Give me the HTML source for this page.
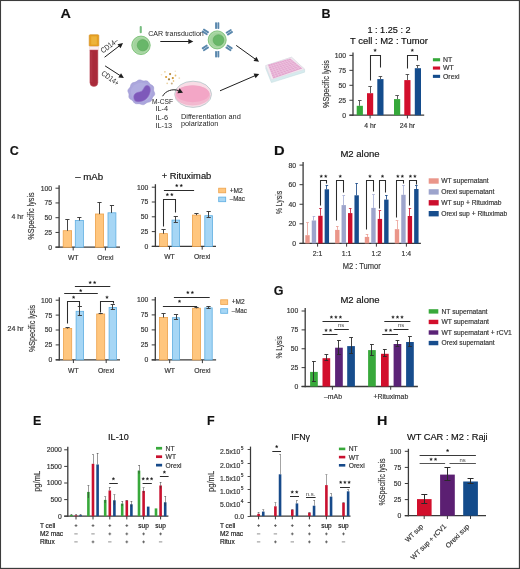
<!DOCTYPE html>
<html><head><meta charset="utf-8"><style>
html,body{margin:0;padding:0;background:#fff;}
svg{display:block;will-change:transform;}
text{font-family:"Liberation Sans",sans-serif;stroke:#3a3a3a;stroke-width:0.18px;}
text.thin{stroke:none;}
</style></head><body>
<svg width="520" height="569" viewBox="0 0 520 569">
<rect x="0" y="0" width="520" height="569" fill="#ffffff"/>
<rect x="0" y="0" width="520" height="1.05" fill="#3c3c3c"/>
<rect x="0" y="0" width="1.05" height="569" fill="#3c3c3c"/>
<rect x="518.85" y="0" width="1.15" height="569" fill="#3c3c3c"/>
<rect x="0" y="567.85" width="520" height="1.15" fill="#3c3c3c"/>
<text x="0" y="0" font-size="12.5" transform="translate(60.6 17.8) scale(1.15 1)" font-weight="bold" fill="#111">A</text>
<rect x="89.2" y="34.7" width="9.6" height="11.6" rx="1" fill="#E6A022" stroke="#D18C1C" stroke-width="0.6"/>
<rect x="91.2" y="36.4" width="5.6" height="8.2" fill="#EFB842" opacity="0.8"/>
<rect x="89.8" y="46.6" width="8.6" height="3.6" fill="#fbeef0" stroke="#e6c2c6" stroke-width="0.4"/>
<path d="M89.9,50.0 H97.9 V82.5 A4,4 0 0 1 89.9,82.5 Z" fill="#A92A3A" stroke="#C25A66" stroke-width="0.5"/>
<rect x="91.2" y="52" width="1.1" height="30" fill="#B7404E" opacity="0.6"/>
<line x1="104.6" y1="57.2" x2="119.43" y2="45.84" stroke="#1e1e1e" stroke-width="1"/>
<polygon points="123,43.1 120.55,48.13 117.51,44.16" fill="#1e1e1e"/>
<line x1="105.1" y1="65.9" x2="120.12" y2="75.56" stroke="#1e1e1e" stroke-width="1"/>
<polygon points="123.9,78 118.34,77.4 121.05,73.19" fill="#1e1e1e"/>
<text x="103" y="53.6" font-size="7.6" fill="#262626" transform="rotate(-37 103 53.6)" textLength="19.8" lengthAdjust="spacingAndGlyphs" class="thin">CD14–</text>
<text x="100.8" y="74.4" font-size="7.6" fill="#262626" transform="rotate(36 100.8 74.4)" textLength="19.8" lengthAdjust="spacingAndGlyphs" class="thin">CD14+</text>
<rect x="139.7" y="26.1" width="2.1" height="7.1" rx="0.9" fill="#77BD80"/>
<circle cx="141" cy="45.3" r="9.2" fill="#A2D39D" stroke="#79BF75" stroke-width="0.9"/>
<circle cx="141" cy="45.3" r="8.0" fill="none" stroke="#B6DEB1" stroke-width="0.6"/>
<circle cx="142.8" cy="45.2" r="5.6" fill="#68B769" stroke="#5CA85D" stroke-width="0.6"/>
<text x="148.2" y="36.2" font-size="7.4" fill="#262626" textLength="55.6" lengthAdjust="spacingAndGlyphs" class="thin">CAR transduction</text>
<line x1="160.3" y1="41.5" x2="188.8" y2="41.5" stroke="#1e1e1e" stroke-width="1"/>
<polygon points="193.3,41.6 188.3,44.1 188.3,39.1" fill="#1e1e1e"/>
<g transform="rotate(0 217.2 39.9)"><rect x="215.1" y="22.3" width="1.9" height="6.6" rx="0.7" fill="#5A88AD"/><rect x="217.4" y="22.3" width="1.9" height="6.6" rx="0.7" fill="#5A88AD"/></g>
<g transform="rotate(58 217.2 39.9)"><rect x="215.1" y="22.3" width="1.9" height="6.6" rx="0.7" fill="#5A88AD"/><rect x="217.4" y="22.3" width="1.9" height="6.6" rx="0.7" fill="#5A88AD"/></g>
<g transform="rotate(124 217.2 39.9)"><rect x="215.1" y="22.3" width="1.9" height="6.6" rx="0.7" fill="#5A88AD"/><rect x="217.4" y="22.3" width="1.9" height="6.6" rx="0.7" fill="#5A88AD"/></g>
<g transform="rotate(180 217.2 39.9)"><rect x="215.1" y="22.3" width="1.9" height="6.6" rx="0.7" fill="#5A88AD"/><rect x="217.4" y="22.3" width="1.9" height="6.6" rx="0.7" fill="#5A88AD"/></g>
<g transform="rotate(236 217.2 39.9)"><rect x="215.1" y="22.3" width="1.9" height="6.6" rx="0.7" fill="#5A88AD"/><rect x="217.4" y="22.3" width="1.9" height="6.6" rx="0.7" fill="#5A88AD"/></g>
<g transform="rotate(304 217.2 39.9)"><rect x="215.1" y="22.3" width="1.9" height="6.6" rx="0.7" fill="#5A88AD"/><rect x="217.4" y="22.3" width="1.9" height="6.6" rx="0.7" fill="#5A88AD"/></g>
<circle cx="217.2" cy="39.9" r="9" fill="#A2D39D" stroke="#79BF75" stroke-width="0.9"/>
<circle cx="217.2" cy="39.9" r="7.8" fill="none" stroke="#B6DEB1" stroke-width="0.6"/>
<circle cx="218.5" cy="40.1" r="5.4" fill="#68B769" stroke="#5CA85D" stroke-width="0.6"/>
<line x1="236.2" y1="45.4" x2="255.35" y2="59.17" stroke="#1e1e1e" stroke-width="1"/>
<polygon points="259,61.8 253.48,60.91 256.4,56.85" fill="#1e1e1e"/>
<polygon points="154.3,92.3 154.65,93.38 154.61,94.47 154.11,95.47 153.35,96.35 152.64,97.18 152.17,98.09 151.88,99.14 151.51,100.21 150.86,101.12 149.87,101.73 148.7,102.06 147.57,102.33 146.59,102.77 145.69,103.42 144.73,104.12 143.65,104.58 142.47,104.62 141.3,104.3 140.2,103.89 139.13,103.65 138,103.66 136.79,103.73 135.6,103.58 134.57,103.05 133.79,102.2 133.16,101.26 132.48,100.45 131.6,99.82 130.58,99.23 129.65,98.51 129.08,97.56 128.92,96.46 128.99,95.34 129,94.3 128.75,93.31 128.3,92.3 127.95,91.22 127.99,90.13 128.49,89.13 129.25,88.25 129.96,87.42 130.43,86.51 130.72,85.46 131.09,84.39 131.74,83.48 132.73,82.87 133.9,82.54 135.03,82.27 136.01,81.83 136.91,81.18 137.87,80.48 138.95,80.02 140.13,79.98 141.3,80.3 142.4,80.71 143.47,80.95 144.6,80.94 145.81,80.87 147,81.02 148.03,81.55 148.81,82.4 149.44,83.34 150.12,84.15 151,84.78 152.02,85.37 152.95,86.09 153.52,87.04 153.68,88.14 153.61,89.26 153.6,90.3 153.85,91.29" fill="#ABA6DC" stroke="#9D98D2" stroke-width="0.7"/>
<ellipse cx="141.3" cy="92.3" rx="10.5" ry="9.6" fill="#B1ADE0"/>
<path d="M133.8,97.3 C133.6,94 136.5,92.4 139.5,92 C142.3,91.6 143.4,89.2 144.4,87.2 C145.6,85 148.6,84.8 149.9,87.4 C151.1,90.4 149.6,95.4 146.6,98.4 C143.6,101.4 138,102.4 135.5,101.1 C134.5,100.5 133.9,99.1 133.8,97.3 Z" fill="#7E59BA" stroke="#8F6CC4" stroke-width="0.6"/>
<circle cx="164.9" cy="71.8" r="0.9" fill="#EDD49C"/>
<circle cx="170.1" cy="74.1" r="1.1" fill="#B88A3C"/>
<circle cx="166.1" cy="77.0" r="1.1" fill="#DDA038"/>
<circle cx="169.0" cy="79.3" r="1.1" fill="#A67E36"/>
<circle cx="172.8" cy="78.1" r="1.1" fill="#C99433"/>
<circle cx="179.3" cy="78.1" r="0.9" fill="#EFDDB4"/>
<circle cx="167.2" cy="83.3" r="0.9" fill="#EBD3A4"/>
<circle cx="171.8" cy="83.5" r="1.0" fill="#C8AE86"/>
<circle cx="175.3" cy="71.2" r="0.8" fill="#F2E4C6"/>
<circle cx="161.5" cy="74.7" r="0.8" fill="#F2E2C0"/>
<circle cx="175.5" cy="75.5" r="0.9" fill="#E6BC6A"/>
<circle cx="173.5" cy="81.0" r="0.8" fill="#E2B25A"/>
<ellipse cx="193.1" cy="94.3" rx="18.4" ry="13.1" fill="#F8DCE6" stroke="#BACACD" stroke-width="0.9"/>
<ellipse cx="192.7" cy="95.4" rx="17.3" ry="9.8" fill="#F3B9D0" stroke="#EDB0C8" stroke-width="0.4"/>
<ellipse cx="192.7" cy="93.8" rx="16.6" ry="8.4" fill="#F3A6C6"/>
<path d="M162.6,96.2 C165.5,90.8 172.5,88.4 178.6,90.6" fill="none" stroke="#1e1e1e" stroke-width="1.0"/>
<polygon points="183.0,92.8 177.4,93.2 179.6,88.3" fill="#1e1e1e"/>
<text x="151.9" y="103.7" font-size="7.3" fill="#262626" textLength="21.2" lengthAdjust="spacingAndGlyphs" class="thin">M-CSF</text>
<text x="155.4" y="111.3" font-size="7.3" fill="#262626" class="thin">IL-4</text>
<text x="155.4" y="119.9" font-size="7.3" fill="#262626" class="thin">IL-6</text>
<text x="155.4" y="127.7" font-size="7.3" fill="#262626" class="thin">IL-13</text>
<text x="180.9" y="118.6" font-size="7.3" fill="#262626" textLength="59.9" lengthAdjust="spacingAndGlyphs" class="thin">Differentiation and</text>
<text x="180.9" y="126.4" font-size="7.3" fill="#262626" textLength="37.4" lengthAdjust="spacingAndGlyphs" class="thin">polarization</text>
<line x1="220" y1="90.8" x2="255.07" y2="75.68" stroke="#1e1e1e" stroke-width="1"/>
<polygon points="259.2,73.9 255.6,78.18 253.62,73.58" fill="#1e1e1e"/>
<polygon points="265.8,65.6 291.5,57.2 304.6,69.2 304.6,72.2 271.4,82.6 265.8,68.6" fill="#D6EBEE" stroke="#C3DADF" stroke-width="0.5"/>
<polygon points="265.8,65.6 291.5,57.2 304.6,69.2 271.4,79.6" fill="#F3EAF1" stroke="#E2D4DE" stroke-width="0.4"/>
<polygon points="268.0,64.8 290.2,58.6 302.4,68.4 273.2,78.6" fill="#E3A6CF"/>
<line x1="270.22" y1="64.18" x2="276.12" y2="77.58" stroke="#F2D3E6" stroke-width="0.45"/>
<line x1="272.44" y1="63.56" x2="279.04" y2="76.56" stroke="#F2D3E6" stroke-width="0.45"/>
<line x1="274.66" y1="62.94" x2="281.96" y2="75.54" stroke="#F2D3E6" stroke-width="0.45"/>
<line x1="276.88" y1="62.32" x2="284.88" y2="74.52" stroke="#F2D3E6" stroke-width="0.45"/>
<line x1="279.1" y1="61.7" x2="287.8" y2="73.5" stroke="#F2D3E6" stroke-width="0.45"/>
<line x1="281.32" y1="61.08" x2="290.72" y2="72.48" stroke="#F2D3E6" stroke-width="0.45"/>
<line x1="283.54" y1="60.46" x2="293.64" y2="71.46" stroke="#F2D3E6" stroke-width="0.45"/>
<line x1="285.76" y1="59.84" x2="296.56" y2="70.44" stroke="#F2D3E6" stroke-width="0.45"/>
<line x1="287.98" y1="59.22" x2="299.48" y2="69.42" stroke="#F2D3E6" stroke-width="0.45"/>
<line x1="268.74" y1="66.77" x2="291.94" y2="60" stroke="#F2D3E6" stroke-width="0.45"/>
<line x1="269.49" y1="68.74" x2="293.69" y2="61.4" stroke="#F2D3E6" stroke-width="0.45"/>
<line x1="270.23" y1="70.71" x2="295.43" y2="62.8" stroke="#F2D3E6" stroke-width="0.45"/>
<line x1="270.97" y1="72.69" x2="297.17" y2="64.2" stroke="#F2D3E6" stroke-width="0.45"/>
<line x1="271.71" y1="74.66" x2="298.91" y2="65.6" stroke="#F2D3E6" stroke-width="0.45"/>
<line x1="272.46" y1="76.63" x2="300.66" y2="67" stroke="#F2D3E6" stroke-width="0.45"/>
<text x="321.4" y="17.8" font-size="12.5" font-weight="bold" fill="#111">B</text>
<text x="389" y="32.8" font-size="9.2" text-anchor="middle" textLength="43.2" lengthAdjust="spacingAndGlyphs">1 : 1.25 : 2</text>
<text x="389" y="44.1" font-size="9.2" text-anchor="middle" textLength="78" lengthAdjust="spacingAndGlyphs">T cell : M2 : Tumor</text>
<line x1="353" y1="52.4" x2="353" y2="115.85" stroke="#3a3a3a" stroke-width="1.3"/>
<line x1="349.4" y1="115.2" x2="353" y2="115.2" stroke="#3a3a3a" stroke-width="1"/>
<text x="346" y="117.65" font-size="6.8" text-anchor="end" fill="#333333">0</text>
<line x1="349.4" y1="100.25" x2="353" y2="100.25" stroke="#3a3a3a" stroke-width="1"/>
<text x="346" y="102.7" font-size="6.8" text-anchor="end" fill="#333333">25</text>
<line x1="349.4" y1="85.3" x2="353" y2="85.3" stroke="#3a3a3a" stroke-width="1"/>
<text x="346" y="87.75" font-size="6.8" text-anchor="end" fill="#333333">50</text>
<line x1="349.4" y1="70.35" x2="353" y2="70.35" stroke="#3a3a3a" stroke-width="1"/>
<text x="346" y="72.8" font-size="6.8" text-anchor="end" fill="#333333">75</text>
<line x1="349.4" y1="55.4" x2="353" y2="55.4" stroke="#3a3a3a" stroke-width="1"/>
<text x="346" y="57.85" font-size="6.8" text-anchor="end" fill="#333333">100</text>
<line x1="349.4" y1="115.2" x2="424.2" y2="115.2" stroke="#3a3a3a" stroke-width="1.3"/>
<line x1="370.1" y1="115.2" x2="370.1" y2="118.45" stroke="#3a3a3a" stroke-width="1"/>
<line x1="407.4" y1="115.2" x2="407.4" y2="118.45" stroke="#3a3a3a" stroke-width="1"/>
<text x="370.1" y="127.7" font-size="6.8" text-anchor="middle" fill="#333333">4 hr</text>
<text x="407.4" y="127.7" font-size="6.8" text-anchor="middle" fill="#333333">24 hr</text>
<text x="329" y="84" font-size="9" text-anchor="middle" fill="#333333" transform="rotate(-90 329 84)" textLength="48" lengthAdjust="spacingAndGlyphs">%Specific lysis</text>
<rect x="356.7" y="105.8" width="6.2" height="9.4" fill="#35A83A"/>
<line x1="359.5" y1="100.5" x2="359.5" y2="105.8" stroke="#4a4a4a" stroke-width="0.9"/>
<line x1="358" y1="100.5" x2="361.6" y2="100.5" stroke="#4a4a4a" stroke-width="0.9"/>
<rect x="367" y="93.2" width="6.2" height="22" fill="#D20F2C"/>
<line x1="370.5" y1="86.7" x2="370.5" y2="93.2" stroke="#4a4a4a" stroke-width="0.9"/>
<line x1="368.3" y1="86.5" x2="371.9" y2="86.5" stroke="#4a4a4a" stroke-width="0.9"/>
<rect x="377.3" y="79.1" width="6.2" height="36.1" fill="#144C8C"/>
<line x1="380.5" y1="76.4" x2="380.5" y2="79.1" stroke="#4a4a4a" stroke-width="0.9"/>
<line x1="378.6" y1="76.5" x2="382.2" y2="76.5" stroke="#4a4a4a" stroke-width="0.9"/>
<rect x="394" y="99.1" width="6.2" height="16.1" fill="#35A83A"/>
<line x1="397.5" y1="95.7" x2="397.5" y2="99.1" stroke="#4a4a4a" stroke-width="0.9"/>
<line x1="395.3" y1="95.5" x2="398.9" y2="95.5" stroke="#4a4a4a" stroke-width="0.9"/>
<rect x="404.3" y="80.1" width="6.2" height="35.1" fill="#D20F2C"/>
<line x1="407.5" y1="74.2" x2="407.5" y2="80.1" stroke="#4a4a4a" stroke-width="0.9"/>
<line x1="405.6" y1="74.5" x2="409.2" y2="74.5" stroke="#4a4a4a" stroke-width="0.9"/>
<rect x="414.8" y="68.2" width="6.2" height="47" fill="#144C8C"/>
<line x1="417.5" y1="65.3" x2="417.5" y2="68.2" stroke="#4a4a4a" stroke-width="0.9"/>
<line x1="416.1" y1="65.5" x2="419.7" y2="65.5" stroke="#4a4a4a" stroke-width="0.9"/>
<polyline points="370.5,80.5 370.5,55.5 380.5,55.5 380.5,67.5" fill="none" stroke="#2c2c2c" stroke-width="1.05"/>
<path d="M375.1,48.8L375.51,49.78L376.57,49.87L375.77,50.57L376.01,51.6L375.1,51.05L374.19,51.6L374.43,50.57L373.63,49.87L374.69,49.78Z" fill="#1e1e1e" stroke="#1e1e1e" stroke-width="0.25"/>
<polyline points="407.5,68.5 407.5,55.5 417.5,55.5 417.5,60.5" fill="none" stroke="#2c2c2c" stroke-width="1.05"/>
<path d="M412.3,48.8L412.71,49.78L413.77,49.87L412.97,50.57L413.21,51.6L412.3,51.05L411.39,51.6L411.63,50.57L410.83,49.87L411.89,49.78Z" fill="#1e1e1e" stroke="#1e1e1e" stroke-width="0.25"/>
<rect x="432.9" y="58.2" width="7.2" height="3.1" fill="#35A83A"/>
<text x="443" y="62" font-size="6.9" fill="#333333">NT</text>
<rect x="432.9" y="66.5" width="7.2" height="3.1" fill="#D20F2C"/>
<text x="443" y="70.3" font-size="6.9" fill="#333333">WT</text>
<rect x="432.9" y="74.8" width="7.2" height="3.1" fill="#144C8C"/>
<text x="443" y="78.6" font-size="6.9" fill="#333333">Orexi</text>
<text x="9.8" y="154.7" font-size="12.5" font-weight="bold" fill="#111">C</text>
<text x="89.2" y="179.5" font-size="9.3" text-anchor="middle" textLength="28" lengthAdjust="spacingAndGlyphs">– mAb</text>
<text x="186.5" y="178.9" font-size="9.3" text-anchor="middle" textLength="49.6" lengthAdjust="spacingAndGlyphs">+ Rituximab</text>
<text x="11.6" y="218.7" font-size="6.8" fill="#333333" textLength="11.9" lengthAdjust="spacingAndGlyphs">4 hr</text>
<text x="7.5" y="331" font-size="6.4" fill="#333333" textLength="16" lengthAdjust="spacingAndGlyphs">24 hr</text>
<line x1="59.1" y1="185.2" x2="59.1" y2="247.85" stroke="#3a3a3a" stroke-width="1.3"/>
<line x1="55.5" y1="247.2" x2="59.1" y2="247.2" stroke="#3a3a3a" stroke-width="1"/>
<text x="52.1" y="249.65" font-size="6.8" text-anchor="end" fill="#333333">0</text>
<line x1="55.5" y1="232.45" x2="59.1" y2="232.45" stroke="#3a3a3a" stroke-width="1"/>
<text x="52.1" y="234.9" font-size="6.8" text-anchor="end" fill="#333333">25</text>
<line x1="55.5" y1="217.7" x2="59.1" y2="217.7" stroke="#3a3a3a" stroke-width="1"/>
<text x="52.1" y="220.15" font-size="6.8" text-anchor="end" fill="#333333">50</text>
<line x1="55.5" y1="202.95" x2="59.1" y2="202.95" stroke="#3a3a3a" stroke-width="1"/>
<text x="52.1" y="205.4" font-size="6.8" text-anchor="end" fill="#333333">75</text>
<line x1="55.5" y1="188.2" x2="59.1" y2="188.2" stroke="#3a3a3a" stroke-width="1"/>
<text x="52.1" y="190.65" font-size="6.8" text-anchor="end" fill="#333333">100</text>
<line x1="55.5" y1="247.2" x2="120" y2="247.2" stroke="#3a3a3a" stroke-width="1.3"/>
<line x1="73.2" y1="247.2" x2="73.2" y2="250.45" stroke="#3a3a3a" stroke-width="1"/>
<line x1="105.4" y1="247.2" x2="105.4" y2="250.45" stroke="#3a3a3a" stroke-width="1"/>
<rect x="63.2" y="230.7" width="8.4" height="16.5" fill="#FFC67E" stroke="#EDA24C" stroke-width="0.8"/>
<line x1="67.5" y1="219.4" x2="67.5" y2="230.8" stroke="#3a3a3a" stroke-width="0.95"/>
<line x1="65.3" y1="219.5" x2="69.5" y2="219.5" stroke="#3a3a3a" stroke-width="0.95"/>
<rect x="75.3" y="220.4" width="8.1" height="26.8" fill="#A6D6F5" stroke="#5FAEE2" stroke-width="0.8"/>
<line x1="79.5" y1="217.3" x2="79.5" y2="220.5" stroke="#3a3a3a" stroke-width="0.95"/>
<line x1="77.25" y1="217.5" x2="81.45" y2="217.5" stroke="#3a3a3a" stroke-width="0.95"/>
<rect x="95.4" y="214" width="8.2" height="33.2" fill="#FFC67E" stroke="#EDA24C" stroke-width="0.8"/>
<line x1="99.5" y1="202.2" x2="99.5" y2="214.1" stroke="#3a3a3a" stroke-width="0.95"/>
<line x1="97.4" y1="202.5" x2="101.6" y2="202.5" stroke="#3a3a3a" stroke-width="0.95"/>
<rect x="108" y="212.8" width="7.9" height="34.4" fill="#A6D6F5" stroke="#5FAEE2" stroke-width="0.8"/>
<line x1="111.5" y1="205.3" x2="111.5" y2="212.9" stroke="#3a3a3a" stroke-width="0.95"/>
<line x1="109.85" y1="205.5" x2="114.05" y2="205.5" stroke="#3a3a3a" stroke-width="0.95"/>
<text x="73.2" y="259.8" font-size="6.8" text-anchor="middle" fill="#333333">WT</text>
<text x="105.4" y="259.8" font-size="6.8" text-anchor="middle" fill="#333333">Orexi</text>
<text x="34.3" y="216.05" font-size="8.8" text-anchor="middle" fill="#333333" transform="rotate(-90 34.3 216.05)" textLength="47.3" lengthAdjust="spacingAndGlyphs">%Specific lysis</text>
<line x1="155.4" y1="184.2" x2="155.4" y2="247.05" stroke="#3a3a3a" stroke-width="1.3"/>
<line x1="151.8" y1="246.4" x2="155.4" y2="246.4" stroke="#3a3a3a" stroke-width="1"/>
<text x="148.4" y="248.85" font-size="6.8" text-anchor="end" fill="#333333">0</text>
<line x1="151.8" y1="231.6" x2="155.4" y2="231.6" stroke="#3a3a3a" stroke-width="1"/>
<text x="148.4" y="234.05" font-size="6.8" text-anchor="end" fill="#333333">25</text>
<line x1="151.8" y1="216.8" x2="155.4" y2="216.8" stroke="#3a3a3a" stroke-width="1"/>
<text x="148.4" y="219.25" font-size="6.8" text-anchor="end" fill="#333333">50</text>
<line x1="151.8" y1="202" x2="155.4" y2="202" stroke="#3a3a3a" stroke-width="1"/>
<text x="148.4" y="204.45" font-size="6.8" text-anchor="end" fill="#333333">75</text>
<line x1="151.8" y1="187.2" x2="155.4" y2="187.2" stroke="#3a3a3a" stroke-width="1"/>
<text x="148.4" y="189.65" font-size="6.8" text-anchor="end" fill="#333333">100</text>
<line x1="151.8" y1="246.4" x2="216" y2="246.4" stroke="#3a3a3a" stroke-width="1.3"/>
<line x1="169.5" y1="246.4" x2="169.5" y2="249.65" stroke="#3a3a3a" stroke-width="1"/>
<line x1="202.2" y1="246.4" x2="202.2" y2="249.65" stroke="#3a3a3a" stroke-width="1"/>
<rect x="159.6" y="233.6" width="7.9" height="12.8" fill="#FFC67E" stroke="#EDA24C" stroke-width="0.8"/>
<line x1="163.5" y1="229.5" x2="163.5" y2="233.7" stroke="#3a3a3a" stroke-width="0.95"/>
<line x1="161.45" y1="229.5" x2="165.65" y2="229.5" stroke="#3a3a3a" stroke-width="0.95"/>
<rect x="172" y="220.1" width="7.6" height="26.3" fill="#A6D6F5" stroke="#5FAEE2" stroke-width="0.8"/>
<line x1="175.5" y1="216.3" x2="175.5" y2="222" stroke="#3a3a3a" stroke-width="0.95"/>
<line x1="173.7" y1="216.5" x2="177.9" y2="216.5" stroke="#3a3a3a" stroke-width="0.95"/>
<line x1="173.7" y1="222.5" x2="177.9" y2="222.5" stroke="#3a3a3a" stroke-width="0.95"/>
<rect x="192.4" y="215.1" width="8.1" height="31.3" fill="#FFC67E" stroke="#EDA24C" stroke-width="0.8"/>
<line x1="196.5" y1="213.6" x2="196.5" y2="215.2" stroke="#3a3a3a" stroke-width="0.95"/>
<line x1="194.35" y1="213.5" x2="198.55" y2="213.5" stroke="#3a3a3a" stroke-width="0.95"/>
<rect x="204.8" y="215.7" width="7.7" height="30.7" fill="#A6D6F5" stroke="#5FAEE2" stroke-width="0.8"/>
<line x1="208.5" y1="211.6" x2="208.5" y2="217.4" stroke="#3a3a3a" stroke-width="0.95"/>
<line x1="206.55" y1="211.5" x2="210.75" y2="211.5" stroke="#3a3a3a" stroke-width="0.95"/>
<line x1="206.55" y1="217.5" x2="210.75" y2="217.5" stroke="#3a3a3a" stroke-width="0.95"/>
<text x="169.5" y="259.2" font-size="6.8" text-anchor="middle" fill="#333333">WT</text>
<text x="202.2" y="259.2" font-size="6.8" text-anchor="middle" fill="#333333">Orexi</text>
<polyline points="163.5,226.5 163.5,199.5 175.5,199.5 175.5,212.5" fill="none" stroke="#2c2c2c" stroke-width="1.05"/>
<path d="M167.35,193.1L167.76,194.08L168.82,194.17L168.02,194.87L168.26,195.9L167.35,195.35L166.44,195.9L166.68,194.87L165.88,194.17L166.94,194.08ZM171.85,193.1L172.26,194.08L173.32,194.17L172.52,194.87L172.76,195.9L171.85,195.35L170.94,195.9L171.18,194.87L170.38,194.17L171.44,194.08Z" fill="#1e1e1e" stroke="#1e1e1e" stroke-width="0.25"/>
<line x1="163.9" y1="190.5" x2="194.1" y2="190.5" stroke="#2c2c2c" stroke-width="1.05"/>
<path d="M176.75,184.05L177.16,185.03L178.22,185.12L177.42,185.82L177.66,186.85L176.75,186.3L175.84,186.85L176.08,185.82L175.28,185.12L176.34,185.03ZM181.25,184.05L181.66,185.03L182.72,185.12L181.92,185.82L182.16,186.85L181.25,186.3L180.34,186.85L180.58,185.82L179.78,185.12L180.84,185.03Z" fill="#1e1e1e" stroke="#1e1e1e" stroke-width="0.25"/>
<rect x="218.7" y="188.2" width="7" height="4.6" fill="#FFC67E" stroke="#EDA24C" stroke-width="0.8"/>
<text x="229.7" y="192.8" font-size="7" fill="#333333" textLength="13" lengthAdjust="spacingAndGlyphs">+M2</text>
<rect x="218.7" y="197.1" width="7" height="4.6" fill="#A6D6F5" stroke="#5FAEE2" stroke-width="0.8"/>
<text x="229.7" y="201.2" font-size="7" fill="#333333" textLength="15.2" lengthAdjust="spacingAndGlyphs">–Mac</text>
<line x1="59.3" y1="297.2" x2="59.3" y2="360.45" stroke="#3a3a3a" stroke-width="1.3"/>
<line x1="55.7" y1="359.8" x2="59.3" y2="359.8" stroke="#3a3a3a" stroke-width="1"/>
<text x="52.3" y="362.25" font-size="6.8" text-anchor="end" fill="#333333">0</text>
<line x1="55.7" y1="344.9" x2="59.3" y2="344.9" stroke="#3a3a3a" stroke-width="1"/>
<text x="52.3" y="347.35" font-size="6.8" text-anchor="end" fill="#333333">25</text>
<line x1="55.7" y1="330" x2="59.3" y2="330" stroke="#3a3a3a" stroke-width="1"/>
<text x="52.3" y="332.45" font-size="6.8" text-anchor="end" fill="#333333">50</text>
<line x1="55.7" y1="315.1" x2="59.3" y2="315.1" stroke="#3a3a3a" stroke-width="1"/>
<text x="52.3" y="317.55" font-size="6.8" text-anchor="end" fill="#333333">75</text>
<line x1="55.7" y1="300.2" x2="59.3" y2="300.2" stroke="#3a3a3a" stroke-width="1"/>
<text x="52.3" y="302.65" font-size="6.8" text-anchor="end" fill="#333333">100</text>
<line x1="55.7" y1="359.8" x2="120" y2="359.8" stroke="#3a3a3a" stroke-width="1.3"/>
<line x1="73.4" y1="359.8" x2="73.4" y2="363.05" stroke="#3a3a3a" stroke-width="1"/>
<line x1="106.2" y1="359.8" x2="106.2" y2="363.05" stroke="#3a3a3a" stroke-width="1"/>
<rect x="63.5" y="328.5" width="8.2" height="31.3" fill="#FFC67E" stroke="#EDA24C" stroke-width="0.8"/>
<line x1="67.5" y1="327.6" x2="67.5" y2="328.6" stroke="#3a3a3a" stroke-width="0.95"/>
<line x1="65.5" y1="327.5" x2="69.7" y2="327.5" stroke="#3a3a3a" stroke-width="0.95"/>
<rect x="76.1" y="311.3" width="7.5" height="48.5" fill="#A6D6F5" stroke="#5FAEE2" stroke-width="0.8"/>
<line x1="79.5" y1="306.3" x2="79.5" y2="315.4" stroke="#3a3a3a" stroke-width="0.95"/>
<line x1="77.75" y1="306.5" x2="81.95" y2="306.5" stroke="#3a3a3a" stroke-width="0.95"/>
<line x1="77.75" y1="315.5" x2="81.95" y2="315.5" stroke="#3a3a3a" stroke-width="0.95"/>
<rect x="96.7" y="314" width="8" height="45.8" fill="#FFC67E" stroke="#EDA24C" stroke-width="0.8"/>
<line x1="100.5" y1="313.1" x2="100.5" y2="314.1" stroke="#3a3a3a" stroke-width="0.95"/>
<line x1="98.6" y1="313.5" x2="102.8" y2="313.5" stroke="#3a3a3a" stroke-width="0.95"/>
<rect x="109.1" y="307.4" width="7.4" height="52.4" fill="#A6D6F5" stroke="#5FAEE2" stroke-width="0.8"/>
<line x1="112.5" y1="304.3" x2="112.5" y2="309.8" stroke="#3a3a3a" stroke-width="0.95"/>
<line x1="110.7" y1="304.5" x2="114.9" y2="304.5" stroke="#3a3a3a" stroke-width="0.95"/>
<line x1="110.7" y1="309.5" x2="114.9" y2="309.5" stroke="#3a3a3a" stroke-width="0.95"/>
<text x="73.4" y="372.6" font-size="6.8" text-anchor="middle" fill="#333333">WT</text>
<text x="106.2" y="372.6" font-size="6.8" text-anchor="middle" fill="#333333">Orexi</text>
<text x="34.9" y="328.5" font-size="8.8" text-anchor="middle" fill="#333333" transform="rotate(-90 34.9 328.5)" textLength="47.1" lengthAdjust="spacingAndGlyphs">%Specific lysis</text>
<polyline points="67.5,323.5 67.5,301.5 79.5,301.5 79.5,306.5" fill="none" stroke="#2c2c2c" stroke-width="1.05"/>
<path d="M73.6,295.7L74.01,296.68L75.07,296.77L74.27,297.47L74.51,298.5L73.6,297.95L72.69,298.5L72.93,297.47L72.13,296.77L73.19,296.68Z" fill="#1e1e1e" stroke="#1e1e1e" stroke-width="0.25"/>
<polyline points="100.5,312.5 100.5,301.5 113.5,301.5 113.5,303.5" fill="none" stroke="#2c2c2c" stroke-width="1.05"/>
<path d="M107,295.7L107.41,296.68L108.47,296.77L107.67,297.47L107.91,298.5L107,297.95L106.09,298.5L106.33,297.47L105.53,296.77L106.59,296.68Z" fill="#1e1e1e" stroke="#1e1e1e" stroke-width="0.25"/>
<line x1="64.2" y1="293.5" x2="97.8" y2="293.5" stroke="#2c2c2c" stroke-width="1.05"/>
<path d="M80.7,289.1L81.11,290.08L82.17,290.17L81.37,290.87L81.61,291.9L80.7,291.35L79.79,291.9L80.03,290.87L79.23,290.17L80.29,290.08Z" fill="#1e1e1e" stroke="#1e1e1e" stroke-width="0.25"/>
<line x1="74.9" y1="286.5" x2="110.3" y2="286.5" stroke="#2c2c2c" stroke-width="1.05"/>
<path d="M90.15,280.9L90.56,281.88L91.62,281.97L90.82,282.67L91.06,283.7L90.15,283.15L89.24,283.7L89.48,282.67L88.68,281.97L89.74,281.88ZM94.65,280.9L95.06,281.88L96.12,281.97L95.32,282.67L95.56,283.7L94.65,283.15L93.74,283.7L93.98,282.67L93.18,281.97L94.24,281.88Z" fill="#1e1e1e" stroke="#1e1e1e" stroke-width="0.25"/>
<line x1="155.3" y1="296.9" x2="155.3" y2="360.55" stroke="#3a3a3a" stroke-width="1.3"/>
<line x1="151.7" y1="359.9" x2="155.3" y2="359.9" stroke="#3a3a3a" stroke-width="1"/>
<text x="148.3" y="362.35" font-size="6.8" text-anchor="end" fill="#333333">0</text>
<line x1="151.7" y1="344.9" x2="155.3" y2="344.9" stroke="#3a3a3a" stroke-width="1"/>
<text x="148.3" y="347.35" font-size="6.8" text-anchor="end" fill="#333333">25</text>
<line x1="151.7" y1="329.9" x2="155.3" y2="329.9" stroke="#3a3a3a" stroke-width="1"/>
<text x="148.3" y="332.35" font-size="6.8" text-anchor="end" fill="#333333">50</text>
<line x1="151.7" y1="314.9" x2="155.3" y2="314.9" stroke="#3a3a3a" stroke-width="1"/>
<text x="148.3" y="317.35" font-size="6.8" text-anchor="end" fill="#333333">75</text>
<line x1="151.7" y1="299.9" x2="155.3" y2="299.9" stroke="#3a3a3a" stroke-width="1"/>
<text x="148.3" y="302.35" font-size="6.8" text-anchor="end" fill="#333333">100</text>
<line x1="151.7" y1="359.9" x2="216.1" y2="359.9" stroke="#3a3a3a" stroke-width="1.3"/>
<line x1="169.7" y1="359.9" x2="169.7" y2="363.15" stroke="#3a3a3a" stroke-width="1"/>
<line x1="202.4" y1="359.9" x2="202.4" y2="363.15" stroke="#3a3a3a" stroke-width="1"/>
<rect x="159.5" y="317.4" width="8.1" height="42.5" fill="#FFC67E" stroke="#EDA24C" stroke-width="0.8"/>
<line x1="163.5" y1="313.4" x2="163.5" y2="317.5" stroke="#3a3a3a" stroke-width="0.95"/>
<line x1="161.45" y1="313.5" x2="165.65" y2="313.5" stroke="#3a3a3a" stroke-width="0.95"/>
<rect x="172.4" y="317.7" width="7.2" height="42.2" fill="#A6D6F5" stroke="#5FAEE2" stroke-width="0.8"/>
<line x1="176.5" y1="314.5" x2="176.5" y2="319.4" stroke="#3a3a3a" stroke-width="0.95"/>
<line x1="173.9" y1="314.5" x2="178.1" y2="314.5" stroke="#3a3a3a" stroke-width="0.95"/>
<line x1="173.9" y1="319.5" x2="178.1" y2="319.5" stroke="#3a3a3a" stroke-width="0.95"/>
<rect x="192.6" y="308.2" width="7.9" height="51.7" fill="#FFC67E" stroke="#EDA24C" stroke-width="0.8"/>
<line x1="196.5" y1="307.3" x2="196.5" y2="308.3" stroke="#3a3a3a" stroke-width="0.95"/>
<line x1="194.45" y1="307.5" x2="198.65" y2="307.5" stroke="#3a3a3a" stroke-width="0.95"/>
<rect x="204.8" y="307.9" width="7.4" height="52" fill="#A6D6F5" stroke="#5FAEE2" stroke-width="0.8"/>
<line x1="208.5" y1="306.4" x2="208.5" y2="308.4" stroke="#3a3a3a" stroke-width="0.95"/>
<line x1="206.4" y1="306.5" x2="210.6" y2="306.5" stroke="#3a3a3a" stroke-width="0.95"/>
<line x1="206.4" y1="308.5" x2="210.6" y2="308.5" stroke="#3a3a3a" stroke-width="0.95"/>
<text x="169.7" y="372.6" font-size="6.8" text-anchor="middle" fill="#333333">WT</text>
<text x="202.4" y="372.6" font-size="6.8" text-anchor="middle" fill="#333333">Orexi</text>
<line x1="162.9" y1="306.5" x2="197.1" y2="306.5" stroke="#2c2c2c" stroke-width="1.05"/>
<path d="M179.5,299.8L179.91,300.78L180.97,300.87L180.17,301.57L180.41,302.6L179.5,302.05L178.59,302.6L178.83,301.57L178.03,300.87L179.09,300.78Z" fill="#1e1e1e" stroke="#1e1e1e" stroke-width="0.25"/>
<line x1="173.9" y1="297.5" x2="209.7" y2="297.5" stroke="#2c2c2c" stroke-width="1.05"/>
<path d="M187.85,290.9L188.26,291.88L189.32,291.97L188.52,292.67L188.76,293.7L187.85,293.15L186.94,293.7L187.18,292.67L186.38,291.97L187.44,291.88ZM192.35,290.9L192.76,291.88L193.82,291.97L193.02,292.67L193.26,293.7L192.35,293.15L191.44,293.7L191.68,292.67L190.88,291.97L191.94,291.88Z" fill="#1e1e1e" stroke="#1e1e1e" stroke-width="0.25"/>
<rect x="220.7" y="299.8" width="7" height="4.6" fill="#FFC67E" stroke="#EDA24C" stroke-width="0.8"/>
<text x="231.7" y="304.4" font-size="7" fill="#333333" textLength="13" lengthAdjust="spacingAndGlyphs">+M2</text>
<rect x="220.7" y="308.7" width="7" height="4.6" fill="#A6D6F5" stroke="#5FAEE2" stroke-width="0.8"/>
<text x="231.7" y="312.8" font-size="7" fill="#333333" textLength="15.2" lengthAdjust="spacingAndGlyphs">–Mac</text>
<text x="0" y="0" font-size="12.5" transform="translate(273.9 154.7) scale(1.18 1)" font-weight="bold" fill="#111">D</text>
<text x="360" y="156.6" font-size="9.1" text-anchor="middle" textLength="39.2" lengthAdjust="spacingAndGlyphs">M2 alone</text>
<line x1="303.1" y1="162.1" x2="303.1" y2="244.05" stroke="#3a3a3a" stroke-width="1.3"/>
<line x1="299.5" y1="243.4" x2="303.1" y2="243.4" stroke="#3a3a3a" stroke-width="1"/>
<text x="296.1" y="245.85" font-size="6.8" text-anchor="end" fill="#333333">0</text>
<line x1="299.5" y1="223.82" x2="303.1" y2="223.82" stroke="#3a3a3a" stroke-width="1"/>
<text x="296.1" y="226.27" font-size="6.8" text-anchor="end" fill="#333333">20</text>
<line x1="299.5" y1="204.25" x2="303.1" y2="204.25" stroke="#3a3a3a" stroke-width="1"/>
<text x="296.1" y="206.7" font-size="6.8" text-anchor="end" fill="#333333">40</text>
<line x1="299.5" y1="184.68" x2="303.1" y2="184.68" stroke="#3a3a3a" stroke-width="1"/>
<text x="296.1" y="187.12" font-size="6.8" text-anchor="end" fill="#333333">60</text>
<line x1="299.5" y1="165.1" x2="303.1" y2="165.1" stroke="#3a3a3a" stroke-width="1"/>
<text x="296.1" y="167.55" font-size="6.8" text-anchor="end" fill="#333333">80</text>
<line x1="299.5" y1="243.4" x2="420.9" y2="243.4" stroke="#3a3a3a" stroke-width="1.3"/>
<line x1="317.6" y1="243.4" x2="317.6" y2="246.65" stroke="#3a3a3a" stroke-width="1"/>
<line x1="346.6" y1="243.4" x2="346.6" y2="246.65" stroke="#3a3a3a" stroke-width="1"/>
<line x1="376.4" y1="243.4" x2="376.4" y2="246.65" stroke="#3a3a3a" stroke-width="1"/>
<line x1="406.4" y1="243.4" x2="406.4" y2="246.65" stroke="#3a3a3a" stroke-width="1"/>
<text x="317.6" y="255.7" font-size="6.9" text-anchor="middle" fill="#333333">2:1</text>
<text x="346.6" y="255.7" font-size="6.9" text-anchor="middle" fill="#333333">1:1</text>
<text x="376.4" y="255.7" font-size="6.9" text-anchor="middle" fill="#333333">1:2</text>
<text x="406.4" y="255.7" font-size="6.9" text-anchor="middle" fill="#333333">1:4</text>
<text x="361.7" y="268.8" font-size="8.6" text-anchor="middle" fill="#333333" textLength="38" lengthAdjust="spacingAndGlyphs">M2 : Tumor</text>
<text x="282" y="202.5" font-size="9.8" text-anchor="middle" fill="#333333" transform="rotate(-90 282 202.5)" textLength="23.1" lengthAdjust="spacingAndGlyphs">% Lysis</text>
<rect x="305.3" y="235.2" width="4.4" height="8.2" fill="#EA968A"/>
<line x1="307.5" y1="222.9" x2="307.5" y2="235.2" stroke="#EBA399" stroke-width="0.85"/>
<line x1="306.2" y1="222.5" x2="308.8" y2="222.5" stroke="#EBA399" stroke-width="0.85"/>
<rect x="311.75" y="220.5" width="4.4" height="22.9" fill="#9DA4CC"/>
<line x1="313.5" y1="216.2" x2="313.5" y2="220.5" stroke="#A7AED3" stroke-width="0.85"/>
<line x1="312.65" y1="216.5" x2="315.25" y2="216.5" stroke="#A7AED3" stroke-width="0.85"/>
<rect x="318.2" y="215.8" width="4.4" height="27.6" fill="#CC0E2D"/>
<line x1="320.5" y1="208.3" x2="320.5" y2="215.8" stroke="#C8203A" stroke-width="0.85"/>
<line x1="319.1" y1="208.5" x2="321.7" y2="208.5" stroke="#C8203A" stroke-width="0.85"/>
<rect x="324.65" y="189.3" width="4.4" height="54.1" fill="#174D8D"/>
<line x1="326.5" y1="185.2" x2="326.5" y2="189.3" stroke="#1D4C88" stroke-width="0.85"/>
<line x1="325.55" y1="185.5" x2="328.15" y2="185.5" stroke="#1D4C88" stroke-width="0.85"/>
<rect x="335.1" y="229.9" width="4.4" height="13.5" fill="#EA968A"/>
<line x1="337.5" y1="226" x2="337.5" y2="229.9" stroke="#EBA399" stroke-width="0.85"/>
<line x1="336" y1="226.5" x2="338.6" y2="226.5" stroke="#EBA399" stroke-width="0.85"/>
<rect x="341.55" y="205.1" width="4.4" height="38.3" fill="#9DA4CC"/>
<line x1="343.5" y1="195.6" x2="343.5" y2="205.1" stroke="#A7AED3" stroke-width="0.85"/>
<line x1="342.45" y1="195.5" x2="345.05" y2="195.5" stroke="#A7AED3" stroke-width="0.85"/>
<rect x="348" y="213.1" width="4.4" height="30.3" fill="#CC0E2D"/>
<line x1="350.5" y1="208.5" x2="350.5" y2="213.1" stroke="#C8203A" stroke-width="0.85"/>
<line x1="348.9" y1="208.5" x2="351.5" y2="208.5" stroke="#C8203A" stroke-width="0.85"/>
<rect x="354.45" y="195.3" width="4.4" height="48.1" fill="#174D8D"/>
<line x1="356.5" y1="183.2" x2="356.5" y2="195.3" stroke="#1D4C88" stroke-width="0.85"/>
<line x1="355.35" y1="183.5" x2="357.95" y2="183.5" stroke="#1D4C88" stroke-width="0.85"/>
<rect x="364.8" y="236.9" width="4.4" height="6.5" fill="#EA968A"/>
<line x1="367.5" y1="234" x2="367.5" y2="236.9" stroke="#EBA399" stroke-width="0.85"/>
<line x1="365.7" y1="234.5" x2="368.3" y2="234.5" stroke="#EBA399" stroke-width="0.85"/>
<rect x="371.25" y="207.9" width="4.4" height="35.5" fill="#9DA4CC"/>
<line x1="373.5" y1="194.8" x2="373.5" y2="207.9" stroke="#A7AED3" stroke-width="0.85"/>
<line x1="372.15" y1="194.5" x2="374.75" y2="194.5" stroke="#A7AED3" stroke-width="0.85"/>
<rect x="377.7" y="218.9" width="4.4" height="24.5" fill="#CC0E2D"/>
<line x1="379.5" y1="210.6" x2="379.5" y2="218.9" stroke="#C8203A" stroke-width="0.85"/>
<line x1="378.6" y1="210.5" x2="381.2" y2="210.5" stroke="#C8203A" stroke-width="0.85"/>
<rect x="384.15" y="199.6" width="4.4" height="43.8" fill="#174D8D"/>
<line x1="386.5" y1="195.2" x2="386.5" y2="199.6" stroke="#1D4C88" stroke-width="0.85"/>
<line x1="385.05" y1="195.5" x2="387.65" y2="195.5" stroke="#1D4C88" stroke-width="0.85"/>
<rect x="394.8" y="229.2" width="4.4" height="14.2" fill="#EA968A"/>
<line x1="397.5" y1="220.9" x2="397.5" y2="229.2" stroke="#EBA399" stroke-width="0.85"/>
<line x1="395.7" y1="220.5" x2="398.3" y2="220.5" stroke="#EBA399" stroke-width="0.85"/>
<rect x="401.25" y="194.8" width="4.4" height="48.6" fill="#9DA4CC"/>
<line x1="403.5" y1="185.1" x2="403.5" y2="194.8" stroke="#A7AED3" stroke-width="0.85"/>
<line x1="402.15" y1="185.5" x2="404.75" y2="185.5" stroke="#A7AED3" stroke-width="0.85"/>
<rect x="407.7" y="216" width="4.4" height="27.4" fill="#CC0E2D"/>
<line x1="409.5" y1="208.3" x2="409.5" y2="216" stroke="#C8203A" stroke-width="0.85"/>
<line x1="408.6" y1="208.5" x2="411.2" y2="208.5" stroke="#C8203A" stroke-width="0.85"/>
<rect x="414.15" y="189" width="4.4" height="54.4" fill="#174D8D"/>
<line x1="416.5" y1="185.5" x2="416.5" y2="189" stroke="#1D4C88" stroke-width="0.85"/>
<line x1="415.05" y1="185.5" x2="417.65" y2="185.5" stroke="#1D4C88" stroke-width="0.85"/>
<polyline points="320.5,205.5 320.5,180.5 326.5,180.5 326.5,183.5" fill="none" stroke="#2c2c2c" stroke-width="1.05"/>
<path d="M321.25,174.7L321.66,175.68L322.72,175.77L321.92,176.47L322.16,177.5L321.25,176.95L320.34,177.5L320.58,176.47L319.78,175.77L320.84,175.68ZM325.75,174.7L326.16,175.68L327.22,175.77L326.42,176.47L326.66,177.5L325.75,176.95L324.84,177.5L325.08,176.47L324.28,175.77L325.34,175.68Z" fill="#1e1e1e" stroke="#1e1e1e" stroke-width="0.25"/>
<polyline points="336.5,220.5 336.5,180.5 343.5,180.5 343.5,192.5" fill="none" stroke="#2c2c2c" stroke-width="1.05"/>
<path d="M340.25,174.7L340.66,175.68L341.72,175.77L340.92,176.47L341.16,177.5L340.25,176.95L339.34,177.5L339.58,176.47L338.78,175.77L339.84,175.68Z" fill="#1e1e1e" stroke="#1e1e1e" stroke-width="0.25"/>
<polyline points="366.5,229.5 366.5,180.5 373.5,180.5 373.5,191.5" fill="none" stroke="#2c2c2c" stroke-width="1.05"/>
<path d="M369.95,174.7L370.36,175.68L371.42,175.77L370.62,176.47L370.86,177.5L369.95,176.95L369.04,177.5L369.28,176.47L368.48,175.77L369.54,175.68Z" fill="#1e1e1e" stroke="#1e1e1e" stroke-width="0.25"/>
<polyline points="379.5,208.5 379.5,180.5 385.5,180.5 385.5,192.5" fill="none" stroke="#2c2c2c" stroke-width="1.05"/>
<path d="M382.5,174.7L382.91,175.68L383.97,175.77L383.17,176.47L383.41,177.5L382.5,176.95L381.59,177.5L381.83,176.47L381.03,175.77L382.09,175.68Z" fill="#1e1e1e" stroke="#1e1e1e" stroke-width="0.25"/>
<polyline points="396.5,217.5 396.5,180.5 403.5,180.5 403.5,183.5" fill="none" stroke="#2c2c2c" stroke-width="1.05"/>
<path d="M397.85,174.7L398.26,175.68L399.32,175.77L398.52,176.47L398.76,177.5L397.85,176.95L396.94,177.5L397.18,176.47L396.38,175.77L397.44,175.68ZM402.35,174.7L402.76,175.68L403.82,175.77L403.02,176.47L403.26,177.5L402.35,176.95L401.44,177.5L401.68,176.47L400.88,175.77L401.94,175.68Z" fill="#1e1e1e" stroke="#1e1e1e" stroke-width="0.25"/>
<polyline points="409.5,205.5 409.5,180.5 416.5,180.5 416.5,184.5" fill="none" stroke="#2c2c2c" stroke-width="1.05"/>
<path d="M410.4,174.7L410.81,175.68L411.87,175.77L411.07,176.47L411.31,177.5L410.4,176.95L409.49,177.5L409.73,176.47L408.93,175.77L409.99,175.68ZM414.9,174.7L415.31,175.68L416.37,175.77L415.57,176.47L415.81,177.5L414.9,176.95L413.99,177.5L414.23,176.47L413.43,175.77L414.49,175.68Z" fill="#1e1e1e" stroke="#1e1e1e" stroke-width="0.25"/>
<rect x="428.7" y="178.3" width="10" height="5.4" fill="#EA968A"/>
<text x="441.2" y="183.3" font-size="6.7" fill="#333333">WT supernatant</text>
<rect x="428.7" y="189.2" width="10" height="5.4" fill="#9DA4CC"/>
<text x="441.2" y="194.2" font-size="6.7" fill="#333333">Orexi supernatant</text>
<rect x="428.7" y="200.1" width="10" height="5.4" fill="#CC0E2D"/>
<text x="441.2" y="205.1" font-size="6.7" fill="#333333">WT sup + Rituximab</text>
<rect x="428.7" y="211" width="10" height="5.4" fill="#174D8D"/>
<text x="441.2" y="216" font-size="6.7" fill="#333333">Orexi sup + Rituximab</text>
<text x="273.8" y="295.3" font-size="12.5" font-weight="bold" fill="#111">G</text>
<text x="360" y="302.7" font-size="9.1" text-anchor="middle" textLength="39.2" lengthAdjust="spacingAndGlyphs">M2 alone</text>
<line x1="305.2" y1="308" x2="305.2" y2="387.15" stroke="#3a3a3a" stroke-width="1.3"/>
<line x1="301.6" y1="386.5" x2="305.2" y2="386.5" stroke="#3a3a3a" stroke-width="1"/>
<text x="298.2" y="388.95" font-size="6.8" text-anchor="end" fill="#333333">0</text>
<line x1="301.6" y1="367.62" x2="305.2" y2="367.62" stroke="#3a3a3a" stroke-width="1"/>
<text x="298.2" y="370.07" font-size="6.8" text-anchor="end" fill="#333333">25</text>
<line x1="301.6" y1="348.75" x2="305.2" y2="348.75" stroke="#3a3a3a" stroke-width="1"/>
<text x="298.2" y="351.2" font-size="6.8" text-anchor="end" fill="#333333">50</text>
<line x1="301.6" y1="329.88" x2="305.2" y2="329.88" stroke="#3a3a3a" stroke-width="1"/>
<text x="298.2" y="332.32" font-size="6.8" text-anchor="end" fill="#333333">75</text>
<line x1="301.6" y1="311" x2="305.2" y2="311" stroke="#3a3a3a" stroke-width="1"/>
<text x="298.2" y="313.45" font-size="6.8" text-anchor="end" fill="#333333">100</text>
<line x1="301.6" y1="386.5" x2="417.9" y2="386.5" stroke="#3a3a3a" stroke-width="1.3"/>
<line x1="332.4" y1="386.5" x2="332.4" y2="389.75" stroke="#3a3a3a" stroke-width="1"/>
<line x1="390.7" y1="386.5" x2="390.7" y2="389.75" stroke="#3a3a3a" stroke-width="1"/>
<text x="333" y="398.6" font-size="6.9" text-anchor="middle" fill="#333333">–mAb</text>
<text x="390.9" y="398.6" font-size="6.9" text-anchor="middle" fill="#333333" textLength="34.8" lengthAdjust="spacingAndGlyphs">+Rituximab</text>
<text x="282" y="347.2" font-size="9.8" text-anchor="middle" fill="#333333" transform="rotate(-90 282 347.2)" textLength="22.7" lengthAdjust="spacingAndGlyphs">% Lysis</text>
<rect x="310.1" y="371.9" width="7.7" height="14.6" fill="#38A93B"/>
<line x1="313.5" y1="361.4" x2="313.5" y2="381.6" stroke="#2a2a2a" stroke-width="0.9"/>
<line x1="312.05" y1="361.5" x2="315.85" y2="361.5" stroke="#2a2a2a" stroke-width="0.9"/>
<line x1="312.05" y1="381.5" x2="315.85" y2="381.5" stroke="#2a2a2a" stroke-width="0.9"/>
<rect x="322.5" y="358.2" width="7.7" height="28.3" fill="#D20F2C"/>
<line x1="326.5" y1="354.6" x2="326.5" y2="360.6" stroke="#2a2a2a" stroke-width="0.9"/>
<line x1="324.45" y1="354.5" x2="328.25" y2="354.5" stroke="#2a2a2a" stroke-width="0.9"/>
<line x1="324.45" y1="360.5" x2="328.25" y2="360.5" stroke="#2a2a2a" stroke-width="0.9"/>
<rect x="335.1" y="347.7" width="7.7" height="38.8" fill="#5B2377"/>
<line x1="338.5" y1="340.4" x2="338.5" y2="354.1" stroke="#2a2a2a" stroke-width="0.9"/>
<line x1="337.05" y1="340.5" x2="340.85" y2="340.5" stroke="#2a2a2a" stroke-width="0.9"/>
<line x1="337.05" y1="354.5" x2="340.85" y2="354.5" stroke="#2a2a2a" stroke-width="0.9"/>
<rect x="347.2" y="346.1" width="7.7" height="40.4" fill="#174D8D"/>
<line x1="351.5" y1="337.5" x2="351.5" y2="353.3" stroke="#2a2a2a" stroke-width="0.9"/>
<line x1="349.15" y1="337.5" x2="352.95" y2="337.5" stroke="#2a2a2a" stroke-width="0.9"/>
<line x1="349.15" y1="353.5" x2="352.95" y2="353.5" stroke="#2a2a2a" stroke-width="0.9"/>
<rect x="368.1" y="350.1" width="7.7" height="36.4" fill="#38A93B"/>
<line x1="371.5" y1="344.5" x2="371.5" y2="355" stroke="#2a2a2a" stroke-width="0.9"/>
<line x1="370.05" y1="344.5" x2="373.85" y2="344.5" stroke="#2a2a2a" stroke-width="0.9"/>
<line x1="370.05" y1="355.5" x2="373.85" y2="355.5" stroke="#2a2a2a" stroke-width="0.9"/>
<rect x="381" y="353.8" width="7.7" height="32.7" fill="#D20F2C"/>
<line x1="384.5" y1="349.3" x2="384.5" y2="356.6" stroke="#2a2a2a" stroke-width="0.9"/>
<line x1="382.95" y1="349.5" x2="386.75" y2="349.5" stroke="#2a2a2a" stroke-width="0.9"/>
<line x1="382.95" y1="356.5" x2="386.75" y2="356.5" stroke="#2a2a2a" stroke-width="0.9"/>
<rect x="393.6" y="344" width="7.7" height="42.5" fill="#5B2377"/>
<line x1="397.5" y1="340.4" x2="397.5" y2="346.1" stroke="#2a2a2a" stroke-width="0.9"/>
<line x1="395.55" y1="340.5" x2="399.35" y2="340.5" stroke="#2a2a2a" stroke-width="0.9"/>
<line x1="395.55" y1="346.5" x2="399.35" y2="346.5" stroke="#2a2a2a" stroke-width="0.9"/>
<rect x="406.1" y="342" width="7.7" height="44.5" fill="#174D8D"/>
<line x1="409.5" y1="336.9" x2="409.5" y2="346.1" stroke="#2a2a2a" stroke-width="0.9"/>
<line x1="408.05" y1="336.5" x2="411.85" y2="336.5" stroke="#2a2a2a" stroke-width="0.9"/>
<line x1="408.05" y1="346.5" x2="411.85" y2="346.5" stroke="#2a2a2a" stroke-width="0.9"/>
<line x1="322.5" y1="321.5" x2="348.8" y2="321.5" stroke="#2c2c2c" stroke-width="1.05"/>
<path d="M331.4,315.6L331.81,316.58L332.87,316.67L332.07,317.37L332.31,318.4L331.4,317.85L330.49,318.4L330.73,317.37L329.93,316.67L330.99,316.58ZM335.9,315.6L336.31,316.58L337.37,316.67L336.57,317.37L336.81,318.4L335.9,317.85L334.99,318.4L335.23,317.37L334.43,316.67L335.49,316.58ZM340.4,315.6L340.81,316.58L341.87,316.67L341.07,317.37L341.31,318.4L340.4,317.85L339.49,318.4L339.73,317.37L338.93,316.67L339.99,316.58Z" fill="#1e1e1e" stroke="#1e1e1e" stroke-width="0.25"/>
<line x1="334.3" y1="329.5" x2="348.8" y2="329.5" stroke="#2c2c2c" stroke-width="1.05"/>
<text x="341.1" y="326.7" font-size="5.9" text-anchor="middle" fill="#444" class="thin">ns</text>
<line x1="322.5" y1="334.5" x2="337.5" y2="334.5" stroke="#2c2c2c" stroke-width="1.05"/>
<path d="M326.05,328.8L326.46,329.78L327.52,329.87L326.72,330.57L326.96,331.6L326.05,331.05L325.14,331.6L325.38,330.57L324.58,329.87L325.64,329.78ZM330.55,328.8L330.96,329.78L332.02,329.87L331.22,330.57L331.46,331.6L330.55,331.05L329.64,331.6L329.88,330.57L329.08,329.87L330.14,329.78Z" fill="#1e1e1e" stroke="#1e1e1e" stroke-width="0.25"/>
<line x1="384.3" y1="321.5" x2="410.4" y2="321.5" stroke="#2c2c2c" stroke-width="1.05"/>
<path d="M393,315.6L393.41,316.58L394.47,316.67L393.67,317.37L393.91,318.4L393,317.85L392.09,318.4L392.33,317.37L391.53,316.67L392.59,316.58ZM397.5,315.6L397.91,316.58L398.97,316.67L398.17,317.37L398.41,318.4L397.5,317.85L396.59,318.4L396.83,317.37L396.03,316.67L397.09,316.58ZM402,315.6L402.41,316.58L403.47,316.67L402.67,317.37L402.91,318.4L402,317.85L401.09,318.4L401.33,317.37L400.53,316.67L401.59,316.58Z" fill="#1e1e1e" stroke="#1e1e1e" stroke-width="0.25"/>
<line x1="393.5" y1="329.5" x2="408.5" y2="329.5" stroke="#2c2c2c" stroke-width="1.05"/>
<text x="401.2" y="326.7" font-size="5.9" text-anchor="middle" fill="#444" class="thin">ns</text>
<line x1="382.2" y1="334.5" x2="398" y2="334.5" stroke="#2c2c2c" stroke-width="1.05"/>
<path d="M386.05,328.8L386.46,329.78L387.52,329.87L386.72,330.57L386.96,331.6L386.05,331.05L385.14,331.6L385.38,330.57L384.58,329.87L385.64,329.78ZM390.55,328.8L390.96,329.78L392.02,329.87L391.22,330.57L391.46,331.6L390.55,331.05L389.64,331.6L389.88,330.57L389.08,329.87L390.14,329.78Z" fill="#1e1e1e" stroke="#1e1e1e" stroke-width="0.25"/>
<rect x="428.7" y="309.2" width="9.6" height="4.4" fill="#38A93B"/>
<text x="441.5" y="313.7" font-size="6.7" fill="#333333">NT supernatant</text>
<rect x="428.7" y="319.75" width="9.6" height="4.4" fill="#D20F2C"/>
<text x="441.5" y="324.25" font-size="6.7" fill="#333333">WT supernatant</text>
<rect x="428.7" y="330.3" width="9.6" height="4.4" fill="#5B2377"/>
<text x="441.5" y="334.8" font-size="6.7" fill="#333333">WT supernatant + rCV1</text>
<rect x="428.7" y="340.85" width="9.6" height="4.4" fill="#174D8D"/>
<text x="441.5" y="345.35" font-size="6.7" fill="#333333">Orexi supernatant</text>
<text x="33.1" y="425.1" font-size="12.5" font-weight="bold" fill="#111">E</text>
<text x="118.45" y="439.7" font-size="9.5" text-anchor="middle" textLength="20.7" lengthAdjust="spacingAndGlyphs">IL-10</text>
<line x1="67.8" y1="446.8" x2="67.8" y2="516.85" stroke="#3a3a3a" stroke-width="1.3"/>
<line x1="64.2" y1="516.2" x2="67.8" y2="516.2" stroke="#3a3a3a" stroke-width="1"/>
<text x="61.8" y="518.65" font-size="6.8" text-anchor="end" fill="#333333">0</text>
<line x1="64.2" y1="499.6" x2="67.8" y2="499.6" stroke="#3a3a3a" stroke-width="1"/>
<text x="61.8" y="502.05" font-size="6.8" text-anchor="end" fill="#333333">500</text>
<line x1="64.2" y1="483" x2="67.8" y2="483" stroke="#3a3a3a" stroke-width="1"/>
<text x="61.8" y="485.45" font-size="6.8" text-anchor="end" fill="#333333">1000</text>
<line x1="64.2" y1="466.4" x2="67.8" y2="466.4" stroke="#3a3a3a" stroke-width="1"/>
<text x="61.8" y="468.85" font-size="6.8" text-anchor="end" fill="#333333">1500</text>
<line x1="64.2" y1="449.8" x2="67.8" y2="449.8" stroke="#3a3a3a" stroke-width="1"/>
<text x="61.8" y="452.25" font-size="6.8" text-anchor="end" fill="#333333">2000</text>
<line x1="64.2" y1="516.2" x2="168.4" y2="516.2" stroke="#3a3a3a" stroke-width="1.3"/>
<line x1="76" y1="516.2" x2="76" y2="519.45" stroke="#3a3a3a" stroke-width="1"/>
<line x1="93" y1="516.2" x2="93" y2="519.45" stroke="#3a3a3a" stroke-width="1"/>
<line x1="109.8" y1="516.2" x2="109.8" y2="519.45" stroke="#3a3a3a" stroke-width="1"/>
<line x1="126.8" y1="516.2" x2="126.8" y2="519.45" stroke="#3a3a3a" stroke-width="1"/>
<line x1="143.6" y1="516.2" x2="143.6" y2="519.45" stroke="#3a3a3a" stroke-width="1"/>
<line x1="160.6" y1="516.2" x2="160.6" y2="519.45" stroke="#3a3a3a" stroke-width="1"/>
<text x="39.9" y="481.35" font-size="9.3" text-anchor="middle" fill="#333333" transform="rotate(-90 39.9 481.35)" textLength="20.9" lengthAdjust="spacingAndGlyphs">pg/mL</text>
<rect x="70.1" y="515" width="2.6" height="1.2" fill="#38A93B"/>
<line x1="71.5" y1="514.2" x2="71.5" y2="515" stroke="#555" stroke-width="0.6"/>
<line x1="70.45" y1="514.5" x2="72.35" y2="514.5" stroke="#555" stroke-width="0.6"/>
<rect x="74.7" y="515.4" width="2.6" height="0.8" fill="#C9112F"/>
<line x1="76.5" y1="514.5" x2="76.5" y2="515.4" stroke="#555" stroke-width="0.6"/>
<line x1="75.05" y1="514.5" x2="76.95" y2="514.5" stroke="#555" stroke-width="0.6"/>
<rect x="79.3" y="515.2" width="2.6" height="1" fill="#174A8A"/>
<line x1="80.5" y1="514.3" x2="80.5" y2="515.2" stroke="#555" stroke-width="0.6"/>
<line x1="79.65" y1="514.5" x2="81.55" y2="514.5" stroke="#555" stroke-width="0.6"/>
<rect x="87.1" y="491.9" width="2.6" height="24.3" fill="#38A93B"/>
<line x1="88.5" y1="485.4" x2="88.5" y2="491.9" stroke="#555" stroke-width="0.6"/>
<line x1="87.45" y1="485.5" x2="89.35" y2="485.5" stroke="#555" stroke-width="0.6"/>
<line x1="88.4" y1="491.9" x2="88.4" y2="498" stroke="#333" stroke-width="0.6"/>
<rect x="91.7" y="463.8" width="2.6" height="52.4" fill="#C9112F"/>
<line x1="93.5" y1="454.9" x2="93.5" y2="463.8" stroke="#555" stroke-width="0.6"/>
<line x1="92.05" y1="454.5" x2="93.95" y2="454.5" stroke="#555" stroke-width="0.6"/>
<rect x="96.3" y="464.5" width="2.6" height="51.7" fill="#174A8A"/>
<line x1="97.5" y1="453" x2="97.5" y2="464.5" stroke="#555" stroke-width="0.6"/>
<line x1="96.65" y1="453.5" x2="98.55" y2="453.5" stroke="#555" stroke-width="0.6"/>
<rect x="103.9" y="499.9" width="2.6" height="16.3" fill="#38A93B"/>
<line x1="105.5" y1="496.9" x2="105.5" y2="499.9" stroke="#555" stroke-width="0.6"/>
<line x1="104.25" y1="496.5" x2="106.15" y2="496.5" stroke="#555" stroke-width="0.6"/>
<line x1="105.2" y1="499.9" x2="105.2" y2="503" stroke="#333" stroke-width="0.6"/>
<rect x="108.5" y="490.5" width="2.6" height="25.7" fill="#C9112F"/>
<line x1="109.5" y1="487.2" x2="109.5" y2="490.5" stroke="#555" stroke-width="0.6"/>
<line x1="108.85" y1="487.5" x2="110.75" y2="487.5" stroke="#555" stroke-width="0.6"/>
<rect x="113.1" y="500.3" width="2.6" height="15.9" fill="#174A8A"/>
<line x1="114.5" y1="494.9" x2="114.5" y2="500.3" stroke="#555" stroke-width="0.6"/>
<line x1="113.45" y1="494.5" x2="115.35" y2="494.5" stroke="#555" stroke-width="0.6"/>
<line x1="114.4" y1="500.3" x2="114.4" y2="505" stroke="#333" stroke-width="0.6"/>
<rect x="120.9" y="503.6" width="2.6" height="12.6" fill="#38A93B"/>
<line x1="122.5" y1="501.2" x2="122.5" y2="503.6" stroke="#555" stroke-width="0.6"/>
<line x1="121.25" y1="501.5" x2="123.15" y2="501.5" stroke="#555" stroke-width="0.6"/>
<line x1="122.2" y1="503.6" x2="122.2" y2="506" stroke="#333" stroke-width="0.6"/>
<rect x="125.5" y="500.3" width="2.6" height="15.9" fill="#C9112F"/>
<line x1="126.5" y1="500" x2="126.5" y2="500.3" stroke="#555" stroke-width="0.6"/>
<line x1="125.85" y1="500.5" x2="127.75" y2="500.5" stroke="#555" stroke-width="0.6"/>
<rect x="130.1" y="504.3" width="2.6" height="11.9" fill="#174A8A"/>
<line x1="131.5" y1="501.2" x2="131.5" y2="504.3" stroke="#555" stroke-width="0.6"/>
<line x1="130.45" y1="501.5" x2="132.35" y2="501.5" stroke="#555" stroke-width="0.6"/>
<line x1="131.4" y1="504.3" x2="131.4" y2="507" stroke="#333" stroke-width="0.6"/>
<rect x="137.7" y="470.6" width="2.6" height="45.6" fill="#38A93B"/>
<line x1="139.5" y1="465.1" x2="139.5" y2="470.6" stroke="#555" stroke-width="0.6"/>
<line x1="138.05" y1="465.5" x2="139.95" y2="465.5" stroke="#555" stroke-width="0.6"/>
<line x1="139" y1="470.6" x2="139" y2="473.6" stroke="#333" stroke-width="0.6"/>
<rect x="142.3" y="490.9" width="2.6" height="25.3" fill="#C9112F"/>
<line x1="143.5" y1="487.9" x2="143.5" y2="490.9" stroke="#555" stroke-width="0.6"/>
<line x1="142.65" y1="487.5" x2="144.55" y2="487.5" stroke="#555" stroke-width="0.6"/>
<line x1="143.6" y1="490.9" x2="143.6" y2="493" stroke="#333" stroke-width="0.6"/>
<rect x="146.9" y="506.6" width="2.6" height="9.6" fill="#174A8A"/>
<rect x="154.7" y="508.4" width="2.6" height="7.8" fill="#38A93B"/>
<rect x="159.3" y="485.5" width="2.6" height="30.7" fill="#C9112F"/>
<line x1="160.5" y1="482.1" x2="160.5" y2="485.5" stroke="#555" stroke-width="0.6"/>
<line x1="159.65" y1="482.5" x2="161.55" y2="482.5" stroke="#555" stroke-width="0.6"/>
<line x1="160.6" y1="485.5" x2="160.6" y2="488.5" stroke="#333" stroke-width="0.6"/>
<rect x="163.9" y="502.3" width="2.6" height="13.9" fill="#174A8A"/>
<line x1="165.5" y1="496.2" x2="165.5" y2="502.3" stroke="#555" stroke-width="0.6"/>
<line x1="164.25" y1="496.5" x2="166.15" y2="496.5" stroke="#555" stroke-width="0.6"/>
<line x1="165.2" y1="502.3" x2="165.2" y2="506" stroke="#333" stroke-width="0.6"/>
<line x1="109.2" y1="483.5" x2="117.8" y2="483.5" stroke="#2c2c2c" stroke-width="1.05"/>
<path d="M113.4,477.3L113.81,478.28L114.87,478.37L114.07,479.07L114.31,480.1L113.4,479.55L112.49,480.1L112.73,479.07L111.93,478.37L112.99,478.28Z" fill="#1e1e1e" stroke="#1e1e1e" stroke-width="0.25"/>
<line x1="142.6" y1="483.5" x2="151.8" y2="483.5" stroke="#2c2c2c" stroke-width="1.05"/>
<path d="M143.2,477.3L143.61,478.28L144.67,478.37L143.87,479.07L144.11,480.1L143.2,479.55L142.29,480.1L142.53,479.07L141.73,478.37L142.79,478.28ZM147.4,477.3L147.81,478.28L148.87,478.37L148.07,479.07L148.31,480.1L147.4,479.55L146.49,480.1L146.73,479.07L145.93,478.37L146.99,478.28ZM151.6,477.3L152.01,478.28L153.07,478.37L152.27,479.07L152.51,480.1L151.6,479.55L150.69,480.1L150.93,479.07L150.13,478.37L151.19,478.28Z" fill="#1e1e1e" stroke="#1e1e1e" stroke-width="0.25"/>
<line x1="159.9" y1="476.5" x2="168.6" y2="476.5" stroke="#2c2c2c" stroke-width="1.05"/>
<path d="M164.4,470.6L164.81,471.58L165.87,471.67L165.07,472.37L165.31,473.4L164.4,472.85L163.49,473.4L163.73,472.37L162.93,471.67L163.99,471.58Z" fill="#1e1e1e" stroke="#1e1e1e" stroke-width="0.25"/>
<rect x="156" y="446.9" width="6.1" height="2.7" fill="#38A93B"/>
<text x="165.6" y="450.7" font-size="6.7" fill="#333333">NT</text>
<rect x="156" y="455.35" width="6.1" height="2.7" fill="#C9112F"/>
<text x="165.6" y="459.15" font-size="6.7" fill="#333333">WT</text>
<rect x="156" y="463.8" width="6.1" height="2.7" fill="#174A8A"/>
<text x="165.6" y="467.6" font-size="6.7" fill="#333333">Orexi</text>
<text x="39.9" y="527.6" font-size="6.5">T cell</text>
<text x="39.9" y="535.9" font-size="6.5">M2 mac</text>
<text x="39.9" y="543.9" font-size="6.5">Ritux</text>
<line x1="74.6" y1="525.6" x2="77.4" y2="525.6" stroke="#444" stroke-width="0.75"/>
<line x1="76" y1="524.2" x2="76" y2="527" stroke="#444" stroke-width="0.75"/>
<line x1="74.3" y1="533.9" x2="77.7" y2="533.9" stroke="#555" stroke-width="0.65"/>
<line x1="74.3" y1="541.9" x2="77.7" y2="541.9" stroke="#555" stroke-width="0.65"/>
<line x1="91.6" y1="525.6" x2="94.4" y2="525.6" stroke="#444" stroke-width="0.75"/>
<line x1="93" y1="524.2" x2="93" y2="527" stroke="#444" stroke-width="0.75"/>
<line x1="91.3" y1="533.9" x2="94.7" y2="533.9" stroke="#555" stroke-width="0.65"/>
<line x1="91.6" y1="541.9" x2="94.4" y2="541.9" stroke="#444" stroke-width="0.75"/>
<line x1="93" y1="540.5" x2="93" y2="543.3" stroke="#444" stroke-width="0.75"/>
<line x1="108.4" y1="525.6" x2="111.2" y2="525.6" stroke="#444" stroke-width="0.75"/>
<line x1="109.8" y1="524.2" x2="109.8" y2="527" stroke="#444" stroke-width="0.75"/>
<line x1="108.4" y1="533.9" x2="111.2" y2="533.9" stroke="#444" stroke-width="0.75"/>
<line x1="109.8" y1="532.5" x2="109.8" y2="535.3" stroke="#444" stroke-width="0.75"/>
<line x1="108.1" y1="541.9" x2="111.5" y2="541.9" stroke="#555" stroke-width="0.65"/>
<line x1="125.4" y1="525.6" x2="128.2" y2="525.6" stroke="#444" stroke-width="0.75"/>
<line x1="126.8" y1="524.2" x2="126.8" y2="527" stroke="#444" stroke-width="0.75"/>
<line x1="125.4" y1="533.9" x2="128.2" y2="533.9" stroke="#444" stroke-width="0.75"/>
<line x1="126.8" y1="532.5" x2="126.8" y2="535.3" stroke="#444" stroke-width="0.75"/>
<line x1="125.4" y1="541.9" x2="128.2" y2="541.9" stroke="#444" stroke-width="0.75"/>
<line x1="126.8" y1="540.5" x2="126.8" y2="543.3" stroke="#444" stroke-width="0.75"/>
<text x="143.6" y="527.6" font-size="6.5" text-anchor="middle">sup</text>
<line x1="142.2" y1="533.9" x2="145" y2="533.9" stroke="#444" stroke-width="0.75"/>
<line x1="143.6" y1="532.5" x2="143.6" y2="535.3" stroke="#444" stroke-width="0.75"/>
<line x1="142.2" y1="541.9" x2="145" y2="541.9" stroke="#444" stroke-width="0.75"/>
<line x1="143.6" y1="540.5" x2="143.6" y2="543.3" stroke="#444" stroke-width="0.75"/>
<text x="160.6" y="527.6" font-size="6.5" text-anchor="middle">sup</text>
<line x1="159.2" y1="533.9" x2="162" y2="533.9" stroke="#444" stroke-width="0.75"/>
<line x1="160.6" y1="532.5" x2="160.6" y2="535.3" stroke="#444" stroke-width="0.75"/>
<line x1="158.9" y1="541.9" x2="162.3" y2="541.9" stroke="#555" stroke-width="0.65"/>
<text x="207.1" y="424.9" font-size="12.5" font-weight="bold" fill="#111">F</text>
<text x="300.65" y="439.8" font-size="9.3" text-anchor="middle" textLength="18.8" lengthAdjust="spacingAndGlyphs">IFNγ</text>
<line x1="250.5" y1="446.6" x2="250.5" y2="516.7" stroke="#3a3a3a" stroke-width="1.25"/>
<line x1="247.6" y1="516.5" x2="250.4" y2="516.5" stroke="#3a3a3a" stroke-width="0.9"/>
<text x="244" y="518.55" font-size="6.8" text-anchor="end" fill="#333333">0.0</text>
<line x1="247.6" y1="502.5" x2="250.4" y2="502.5" stroke="#3a3a3a" stroke-width="0.9"/>
<text x="240.4" y="507.44" font-size="6.8" text-anchor="end" fill="#333333">5.0x10</text>
<text x="240.7" y="503.44" font-size="4.9" fill="#333333">4</text>
<line x1="247.6" y1="489.5" x2="250.4" y2="489.5" stroke="#3a3a3a" stroke-width="0.9"/>
<text x="240.4" y="494.18" font-size="6.8" text-anchor="end" fill="#333333">1.0x10</text>
<text x="240.7" y="490.18" font-size="4.9" fill="#333333">5</text>
<line x1="247.6" y1="476.5" x2="250.4" y2="476.5" stroke="#3a3a3a" stroke-width="0.9"/>
<text x="240.4" y="480.92" font-size="6.8" text-anchor="end" fill="#333333">1.5x10</text>
<text x="240.7" y="476.92" font-size="4.9" fill="#333333">5</text>
<line x1="247.6" y1="463.5" x2="250.4" y2="463.5" stroke="#3a3a3a" stroke-width="0.9"/>
<text x="240.4" y="467.66" font-size="6.8" text-anchor="end" fill="#333333">2.0x10</text>
<text x="240.7" y="463.66" font-size="4.9" fill="#333333">5</text>
<line x1="247.6" y1="449.5" x2="250.4" y2="449.5" stroke="#3a3a3a" stroke-width="0.9"/>
<text x="240.4" y="454.4" font-size="6.8" text-anchor="end" fill="#333333">2.5x10</text>
<text x="240.7" y="450.4" font-size="4.9" fill="#333333">5</text>
<line x1="250.4" y1="516.1" x2="350.5" y2="516.1" stroke="#3a3a3a" stroke-width="1.3"/>
<line x1="258.6" y1="516.1" x2="258.6" y2="519.35" stroke="#3a3a3a" stroke-width="1"/>
<line x1="275.4" y1="516.1" x2="275.4" y2="519.35" stroke="#3a3a3a" stroke-width="1"/>
<line x1="292.3" y1="516.1" x2="292.3" y2="519.35" stroke="#3a3a3a" stroke-width="1"/>
<line x1="309.4" y1="516.1" x2="309.4" y2="519.35" stroke="#3a3a3a" stroke-width="1"/>
<line x1="326.4" y1="516.1" x2="326.4" y2="519.35" stroke="#3a3a3a" stroke-width="1"/>
<line x1="343.5" y1="516.1" x2="343.5" y2="519.35" stroke="#3a3a3a" stroke-width="1"/>
<text x="213.9" y="481.4" font-size="9.3" text-anchor="middle" fill="#333333" transform="rotate(-90 213.9 481.4)" textLength="21.1" lengthAdjust="spacingAndGlyphs">pg/mL</text>
<rect x="257.3" y="513.8" width="2.6" height="2.3" fill="#C9112F"/>
<line x1="258.5" y1="512" x2="258.5" y2="513.8" stroke="#666" stroke-width="0.6"/>
<line x1="257.65" y1="512.5" x2="259.55" y2="512.5" stroke="#666" stroke-width="0.6"/>
<rect x="261.95" y="511.6" width="2.6" height="4.5" fill="#174A8A"/>
<line x1="263.5" y1="509.9" x2="263.5" y2="511.6" stroke="#666" stroke-width="0.6"/>
<line x1="262.3" y1="509.5" x2="264.2" y2="509.5" stroke="#666" stroke-width="0.6"/>
<rect x="274.1" y="506.3" width="2.6" height="9.8" fill="#C9112F"/>
<line x1="275.5" y1="502.7" x2="275.5" y2="506.3" stroke="#666" stroke-width="0.6"/>
<line x1="274.45" y1="502.5" x2="276.35" y2="502.5" stroke="#666" stroke-width="0.6"/>
<rect x="278.75" y="474.3" width="2.6" height="41.8" fill="#174A8A"/>
<line x1="280.5" y1="454.4" x2="280.5" y2="474.3" stroke="#666" stroke-width="0.6"/>
<line x1="279.1" y1="454.5" x2="281" y2="454.5" stroke="#666" stroke-width="0.6"/>
<rect x="291" y="509.6" width="2.6" height="6.5" fill="#C9112F"/>
<line x1="292.5" y1="509" x2="292.5" y2="509.6" stroke="#666" stroke-width="0.6"/>
<line x1="291.35" y1="509.5" x2="293.25" y2="509.5" stroke="#666" stroke-width="0.6"/>
<rect x="295.65" y="503.4" width="2.6" height="12.7" fill="#174A8A"/>
<line x1="296.5" y1="500.5" x2="296.5" y2="503.4" stroke="#666" stroke-width="0.6"/>
<line x1="296" y1="500.5" x2="297.9" y2="500.5" stroke="#666" stroke-width="0.6"/>
<rect x="308.1" y="512.6" width="2.6" height="3.5" fill="#C9112F"/>
<line x1="309.5" y1="512" x2="309.5" y2="512.6" stroke="#666" stroke-width="0.6"/>
<line x1="308.45" y1="512.5" x2="310.35" y2="512.5" stroke="#666" stroke-width="0.6"/>
<rect x="312.75" y="505.7" width="2.6" height="10.4" fill="#174A8A"/>
<line x1="314.5" y1="500" x2="314.5" y2="505.7" stroke="#666" stroke-width="0.6"/>
<line x1="313.1" y1="500.5" x2="315" y2="500.5" stroke="#666" stroke-width="0.6"/>
<rect x="325.1" y="485.1" width="2.6" height="31" fill="#C9112F"/>
<line x1="326.5" y1="474.9" x2="326.5" y2="485.1" stroke="#666" stroke-width="0.6"/>
<line x1="325.45" y1="474.5" x2="327.35" y2="474.5" stroke="#666" stroke-width="0.6"/>
<rect x="329.75" y="496.6" width="2.6" height="19.5" fill="#174A8A"/>
<line x1="331.5" y1="493.6" x2="331.5" y2="496.6" stroke="#666" stroke-width="0.6"/>
<line x1="330.1" y1="493.5" x2="332" y2="493.5" stroke="#666" stroke-width="0.6"/>
<rect x="342.2" y="502.7" width="2.6" height="13.4" fill="#C9112F"/>
<line x1="343.5" y1="502.2" x2="343.5" y2="502.7" stroke="#666" stroke-width="0.6"/>
<line x1="342.55" y1="502.5" x2="344.45" y2="502.5" stroke="#666" stroke-width="0.6"/>
<rect x="346.85" y="491.3" width="2.6" height="24.8" fill="#174A8A"/>
<line x1="348.5" y1="489.7" x2="348.5" y2="491.3" stroke="#666" stroke-width="0.6"/>
<line x1="347.2" y1="489.5" x2="349.1" y2="489.5" stroke="#666" stroke-width="0.6"/>
<line x1="272.3" y1="451.5" x2="281" y2="451.5" stroke="#2c2c2c" stroke-width="1.05"/>
<path d="M276.7,445.1L277.11,446.08L278.17,446.17L277.37,446.87L277.61,447.9L276.7,447.35L275.79,447.9L276.03,446.87L275.23,446.17L276.29,446.08Z" fill="#1e1e1e" stroke="#1e1e1e" stroke-width="0.25"/>
<line x1="290" y1="496.5" x2="299" y2="496.5" stroke="#2c2c2c" stroke-width="1.05"/>
<path d="M292.25,490.5L292.66,491.48L293.72,491.57L292.92,492.27L293.16,493.3L292.25,492.75L291.34,493.3L291.58,492.27L290.78,491.57L291.84,491.48ZM296.75,490.5L297.16,491.48L298.22,491.57L297.42,492.27L297.66,493.3L296.75,492.75L295.84,493.3L296.08,492.27L295.28,491.57L296.34,491.48Z" fill="#1e1e1e" stroke="#1e1e1e" stroke-width="0.25"/>
<line x1="306" y1="497.5" x2="315.6" y2="497.5" stroke="#2c2c2c" stroke-width="1.05"/>
<text x="310.6" y="495.6" font-size="6" text-anchor="middle" fill="#444" class="thin">n.s.</text>
<line x1="340" y1="487.5" x2="349.9" y2="487.5" stroke="#2c2c2c" stroke-width="1.05"/>
<path d="M340.7,480.8L341.11,481.78L342.17,481.87L341.37,482.57L341.61,483.6L340.7,483.05L339.79,483.6L340.03,482.57L339.23,481.87L340.29,481.78ZM344.9,480.8L345.31,481.78L346.37,481.87L345.57,482.57L345.81,483.6L344.9,483.05L343.99,483.6L344.23,482.57L343.43,481.87L344.49,481.78ZM349.1,480.8L349.51,481.78L350.57,481.87L349.77,482.57L350.01,483.6L349.1,483.05L348.19,483.6L348.43,482.57L347.63,481.87L348.69,481.78Z" fill="#1e1e1e" stroke="#1e1e1e" stroke-width="0.25"/>
<rect x="338.9" y="447.6" width="6.4" height="2.6" fill="#38A93B"/>
<text x="348.7" y="451.4" font-size="6.7" fill="#333333">NT</text>
<rect x="338.9" y="455.8" width="6.4" height="2.6" fill="#C9112F"/>
<text x="348.7" y="459.6" font-size="6.7" fill="#333333">WT</text>
<rect x="338.9" y="464" width="6.4" height="2.6" fill="#174A8A"/>
<text x="348.7" y="467.8" font-size="6.7" fill="#333333">Orexi</text>
<text x="219.9" y="527.6" font-size="6.5">T cell</text>
<text x="219.9" y="535.9" font-size="6.5">M2 mac</text>
<text x="219.9" y="543.9" font-size="6.5">Ritux</text>
<line x1="257.2" y1="525.6" x2="260" y2="525.6" stroke="#444" stroke-width="0.75"/>
<line x1="258.6" y1="524.2" x2="258.6" y2="527" stroke="#444" stroke-width="0.75"/>
<line x1="256.9" y1="533.9" x2="260.3" y2="533.9" stroke="#555" stroke-width="0.65"/>
<line x1="256.9" y1="541.9" x2="260.3" y2="541.9" stroke="#555" stroke-width="0.65"/>
<line x1="274" y1="525.6" x2="276.8" y2="525.6" stroke="#444" stroke-width="0.75"/>
<line x1="275.4" y1="524.2" x2="275.4" y2="527" stroke="#444" stroke-width="0.75"/>
<line x1="273.7" y1="533.9" x2="277.1" y2="533.9" stroke="#555" stroke-width="0.65"/>
<line x1="274" y1="541.9" x2="276.8" y2="541.9" stroke="#444" stroke-width="0.75"/>
<line x1="275.4" y1="540.5" x2="275.4" y2="543.3" stroke="#444" stroke-width="0.75"/>
<line x1="290.9" y1="525.6" x2="293.7" y2="525.6" stroke="#444" stroke-width="0.75"/>
<line x1="292.3" y1="524.2" x2="292.3" y2="527" stroke="#444" stroke-width="0.75"/>
<line x1="290.9" y1="533.9" x2="293.7" y2="533.9" stroke="#444" stroke-width="0.75"/>
<line x1="292.3" y1="532.5" x2="292.3" y2="535.3" stroke="#444" stroke-width="0.75"/>
<line x1="290.6" y1="541.9" x2="294" y2="541.9" stroke="#555" stroke-width="0.65"/>
<line x1="308" y1="525.6" x2="310.8" y2="525.6" stroke="#444" stroke-width="0.75"/>
<line x1="309.4" y1="524.2" x2="309.4" y2="527" stroke="#444" stroke-width="0.75"/>
<line x1="308" y1="533.9" x2="310.8" y2="533.9" stroke="#444" stroke-width="0.75"/>
<line x1="309.4" y1="532.5" x2="309.4" y2="535.3" stroke="#444" stroke-width="0.75"/>
<line x1="308" y1="541.9" x2="310.8" y2="541.9" stroke="#444" stroke-width="0.75"/>
<line x1="309.4" y1="540.5" x2="309.4" y2="543.3" stroke="#444" stroke-width="0.75"/>
<text x="326.4" y="527.6" font-size="6.5" text-anchor="middle">sup</text>
<line x1="325" y1="533.9" x2="327.8" y2="533.9" stroke="#444" stroke-width="0.75"/>
<line x1="326.4" y1="532.5" x2="326.4" y2="535.3" stroke="#444" stroke-width="0.75"/>
<line x1="325" y1="541.9" x2="327.8" y2="541.9" stroke="#444" stroke-width="0.75"/>
<line x1="326.4" y1="540.5" x2="326.4" y2="543.3" stroke="#444" stroke-width="0.75"/>
<text x="343.5" y="527.6" font-size="6.5" text-anchor="middle">sup</text>
<line x1="342.1" y1="533.9" x2="344.9" y2="533.9" stroke="#444" stroke-width="0.75"/>
<line x1="343.5" y1="532.5" x2="343.5" y2="535.3" stroke="#444" stroke-width="0.75"/>
<line x1="341.8" y1="541.9" x2="345.2" y2="541.9" stroke="#555" stroke-width="0.65"/>
<text x="0" y="0" font-size="12.5" transform="translate(377.1 425.1) scale(1.15 1)" font-weight="bold" fill="#111">H</text>
<text x="447.3" y="440.1" font-size="9.3" text-anchor="middle" textLength="80.8" lengthAdjust="spacingAndGlyphs">WT CAR : M2 : Raji</text>
<line x1="408.4" y1="448.8" x2="408.4" y2="516.35" stroke="#3a3a3a" stroke-width="1.3"/>
<line x1="404.8" y1="515.7" x2="408.4" y2="515.7" stroke="#3a3a3a" stroke-width="1"/>
<text x="401.4" y="518.15" font-size="6.8" text-anchor="end" fill="#333333">0</text>
<line x1="404.8" y1="499.6" x2="408.4" y2="499.6" stroke="#3a3a3a" stroke-width="1"/>
<text x="401.4" y="502.05" font-size="6.8" text-anchor="end" fill="#333333">25</text>
<line x1="404.8" y1="483.5" x2="408.4" y2="483.5" stroke="#3a3a3a" stroke-width="1"/>
<text x="401.4" y="485.95" font-size="6.8" text-anchor="end" fill="#333333">50</text>
<line x1="404.8" y1="467.4" x2="408.4" y2="467.4" stroke="#3a3a3a" stroke-width="1"/>
<text x="401.4" y="469.85" font-size="6.8" text-anchor="end" fill="#333333">75</text>
<line x1="404.8" y1="451.3" x2="408.4" y2="451.3" stroke="#3a3a3a" stroke-width="1"/>
<text x="401.4" y="453.75" font-size="6.8" text-anchor="end" fill="#333333">100</text>
<line x1="404.8" y1="515.7" x2="486" y2="515.7" stroke="#3a3a3a" stroke-width="1.3"/>
<line x1="424.2" y1="515.7" x2="424.2" y2="518.95" stroke="#3a3a3a" stroke-width="1"/>
<line x1="447.4" y1="515.7" x2="447.4" y2="518.95" stroke="#3a3a3a" stroke-width="1"/>
<line x1="470.5" y1="515.7" x2="470.5" y2="518.95" stroke="#3a3a3a" stroke-width="1"/>
<text x="385.2" y="482" font-size="9" text-anchor="middle" fill="#333333" transform="rotate(-90 385.2 482)" textLength="47.2" lengthAdjust="spacingAndGlyphs">%Specific lysis</text>
<rect x="417" y="499.1" width="14.6" height="16.6" fill="#D20F2C"/>
<line x1="424.5" y1="494.5" x2="424.5" y2="503.5" stroke="#2a2a2a" stroke-width="1"/>
<line x1="421.3" y1="494.5" x2="427.3" y2="494.5" stroke="#2a2a2a" stroke-width="1"/>
<line x1="421.3" y1="503.5" x2="427.3" y2="503.5" stroke="#2a2a2a" stroke-width="1"/>
<rect x="440.1" y="474.6" width="14.7" height="41.1" fill="#5B1F72"/>
<line x1="447.5" y1="467.4" x2="447.5" y2="480.1" stroke="#2a2a2a" stroke-width="1"/>
<line x1="444.45" y1="467.5" x2="450.45" y2="467.5" stroke="#2a2a2a" stroke-width="1"/>
<line x1="444.45" y1="480.5" x2="450.45" y2="480.5" stroke="#2a2a2a" stroke-width="1"/>
<rect x="463.2" y="481.5" width="14.7" height="34.2" fill="#134B8B"/>
<line x1="470.5" y1="478.7" x2="470.5" y2="483.3" stroke="#2a2a2a" stroke-width="1"/>
<line x1="467.55" y1="478.5" x2="473.55" y2="478.5" stroke="#2a2a2a" stroke-width="1"/>
<line x1="467.55" y1="483.5" x2="473.55" y2="483.5" stroke="#2a2a2a" stroke-width="1"/>
<line x1="419.6" y1="455.5" x2="475.9" y2="455.5" stroke="#3a3a3a" stroke-width="1.05"/>
<path d="M447.6,449L448.01,449.98L449.07,450.07L448.27,450.77L448.51,451.8L447.6,451.25L446.69,451.8L446.93,450.77L446.13,450.07L447.19,449.98Z" fill="#1e1e1e" stroke="#1e1e1e" stroke-width="0.25"/>
<line x1="419.6" y1="463.5" x2="445.1" y2="463.5" stroke="#555" stroke-width="1.05"/>
<path d="M431.05,457.8L431.46,458.78L432.52,458.87L431.72,459.57L431.96,460.6L431.05,460.05L430.14,460.6L430.38,459.57L429.58,458.87L430.64,458.78ZM435.55,457.8L435.96,458.78L437.02,458.87L436.22,459.57L436.46,460.6L435.55,460.05L434.64,460.6L434.88,459.57L434.08,458.87L435.14,458.78Z" fill="#1e1e1e" stroke="#1e1e1e" stroke-width="0.25"/>
<line x1="449.5" y1="463.5" x2="475.9" y2="463.5" stroke="#555" stroke-width="1.05"/>
<text x="462.5" y="461.5" font-size="5.9" text-anchor="middle" fill="#444" class="thin">ns</text>
<text x="423.6" y="526.9" font-size="6.9" text-anchor="end" fill="#333333" transform="rotate(-45 423.6 526.9)" textLength="22" lengthAdjust="spacingAndGlyphs">WT sup</text>
<text x="446.8" y="526.9" font-size="6.9" text-anchor="end" fill="#333333" transform="rotate(-45 446.8 526.9)" textLength="47" lengthAdjust="spacingAndGlyphs">WT sup + rCV1</text>
<text x="469.9" y="526.9" font-size="6.9" text-anchor="end" fill="#333333" transform="rotate(-45 469.9 526.9)" textLength="30.5" lengthAdjust="spacingAndGlyphs">Orexi sup</text>
</svg>
</body></html>
